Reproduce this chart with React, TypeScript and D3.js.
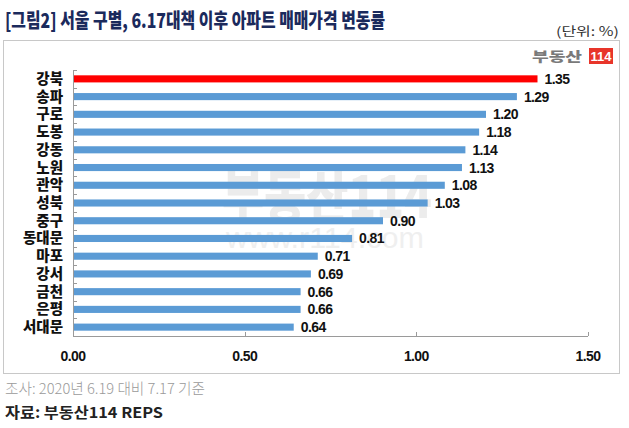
import React from "react";
import * as d3 from "d3";

const categories = ["강북", "송파", "구로", "도봉", "강동", "노원", "관악", "성북", "중구", "동대문", "마포", "강서", "금천", "은평", "서대문"];
const values = [1.35, 1.29, 1.2, 1.18, 1.14, 1.13, 1.08, 1.03, 0.9, 0.81, 0.71, 0.69, 0.66, 0.66, 0.64];
const xTicks = [0, 0.5, 1.0, 1.5];
const highlight = "강북";

const W = 629;
const H = 428;

export default function App() {
  const x = d3.scaleLinear().domain([0, 1.5]).range([73, 588]);
  const y = d3.scaleBand<string>().domain(categories).range([70, 336]).paddingInner(0.6).paddingOuter(0.3);
  const band = d3.scaleBand<string>().domain(categories).range([70, 336]);
  const kr = "'Noto Sans CJK KR', 'Noto Sans', sans-serif";
  const num = "'Liberation Sans Narrow', 'Liberation Sans', Arial, sans-serif";
  return (
    <svg width={W} height={H} style={{ position: "absolute", left: 0, top: 0, background: "#fff" }}>
      <rect x={0} y={0} width={W} height={H} fill="#fff" />
      <text x={5} y={28} fontFamily={kr} fontWeight={900} fontSize={20} fill="#1b2a5c" textLength={380} lengthAdjust="spacingAndGlyphs">
        [그림2] 서울 구별, 6.17대책 이후 아파트 매매가격 변동률
      </text>
      <text x={619} y={36} textAnchor="end" fontFamily={kr} fontSize={12.5} fill="#333" textLength={63} lengthAdjust="spacingAndGlyphs">
        (단위: %)
      </text>
      <rect x={3.5} y={40.5} width={616} height={333} fill="none" stroke="#c8c8c8" strokeWidth={1} />
      {/* watermark */}
      <g>
        <text x={222} y={218} fontFamily={kr} fontWeight={900} fontSize={58} fill="#ececec" textLength={210} lengthAdjust="spacingAndGlyphs">부동산114</text>
        <text x={226} y={248} fontFamily="'Liberation Sans', Arial, sans-serif" fontSize={30} fill="#efefef" textLength={198} lengthAdjust="spacingAndGlyphs">www.r114.com</text>
      </g>
      {/* logo */}
      <text x={582} y={61} textAnchor="end" fontFamily={kr} fontWeight={900} fontSize={13} fill="#7a7a7a" textLength={50} lengthAdjust="spacingAndGlyphs">부동산</text>
      <rect x={589} y={48} width={24} height={16} fill="#e8352a" />
      <text x={601} y={61} textAnchor="middle" fontFamily={num} fontWeight={700} fontSize={13} fill="#fff">114</text>
      {/* axis lines */}
      <line x1={73.5} x2={73.5} y1={70} y2={336} stroke="#9a9a9a" />
      <line x1={73} x2={588} y1={336.5} y2={336.5} stroke="#9a9a9a" />
      {categories.map((c) => (
        <line key={"t" + c} x1={73} x2={77} y1={Math.round(band(c)!) + 0.5} y2={Math.round(band(c)!) + 0.5} stroke="#9a9a9a" />
      ))}
      {xTicks.map((t) => (
        <g key={"x" + t}>
          <line x1={Math.round(x(t)) + 0.5} x2={Math.round(x(t)) + 0.5} y1={332} y2={336} stroke="#9a9a9a" />
          <text x={x(t)} y={361} textAnchor="middle" fontFamily={num} fontWeight={700} fontSize={14} letterSpacing={-0.6} fill="#111">
            {t.toFixed(2)}
          </text>
        </g>
      ))}
      {categories.map((c, i) => (
        <g key={c}>
          <rect x={74} y={y(c)!} width={x(values[i]) - x(0)} height={y.bandwidth()} fill={c === highlight ? "#ff0000" : "#5b9bd5"} />
          <text x={63} y={y(c)! + y.bandwidth() / 2 + 5} textAnchor="end" fontFamily={kr} fontWeight={900} fontSize={14.5} fill="#111">
            {c}
          </text>
          <text x={x(values[i]) + 8} y={y(c)! + y.bandwidth() / 2 + 5} fontFamily={num} fontWeight={700} fontSize={14} letterSpacing={-0.6} fill="#111">
            {values[i].toFixed(2)}
          </text>
        </g>
      ))}
      <text x={5} y={394} fontFamily={kr} fontWeight={300} fontSize={15} fill="#9a9a9a" textLength={200} lengthAdjust="spacingAndGlyphs">
        조사: 2020년 6.19 대비 7.17 기준
      </text>
      <text x={5} y={418} fontFamily={kr} fontWeight={700} fontSize={15} fill="#222" textLength={158} lengthAdjust="spacingAndGlyphs">
        자료: 부동산114 REPS
      </text>
    </svg>
  );
}
